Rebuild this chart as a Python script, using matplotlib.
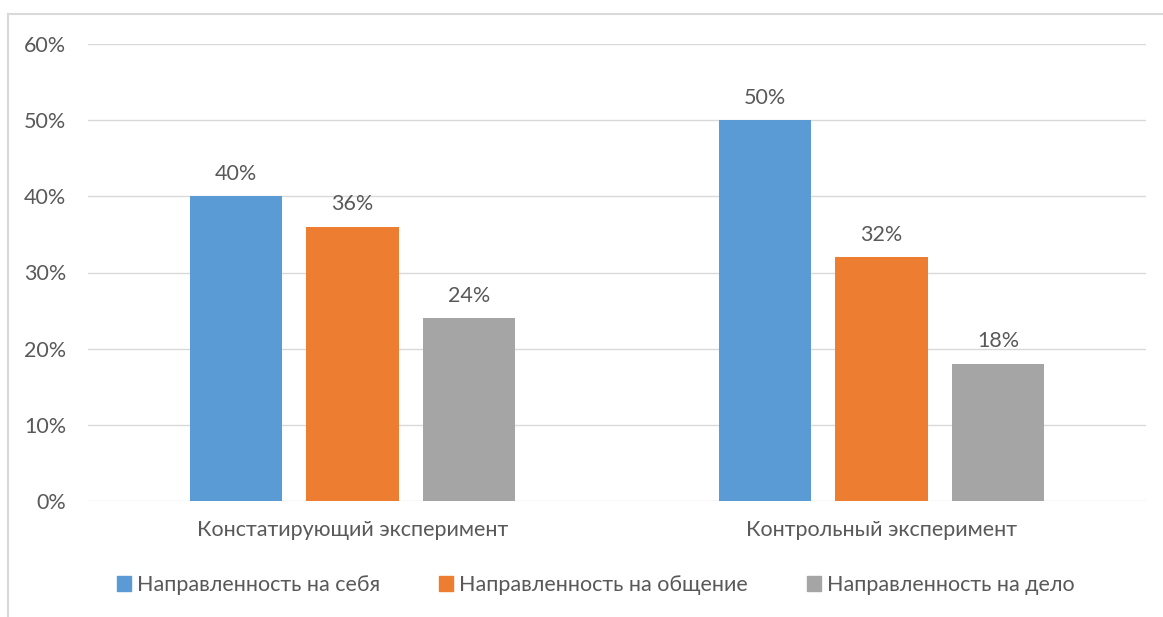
import matplotlib
matplotlib.use("Agg")
import matplotlib.pyplot as plt
from matplotlib.ticker import FuncFormatter
from matplotlib.lines import Line2D
import numpy as np

categories = ["Констатирующий эксперимент", "Контрольный эксперимент"]
series_names = ["Направленность на себя", "Направленность на общение", "Направленность на дело"]
values = [
    [40, 50],
    [36, 32],
    [24, 18],
]
colors = ["#5B9BD5", "#ED7D31", "#A5A5A5"]
yticks = [0, 10, 20, 30, 40, 50, 60]

plt.rcParams['font.family'] = ['Lato', 'DejaVu Sans']
txt = "#595959"
fs = 15.5

fig = plt.figure(figsize=(11.63, 6.17), dpi=100)
ax = fig.add_axes([88/1163, 116/617, (1146-88)/1163, (501-44)/617])

x = np.arange(len(categories))
width = 0.174
offsets = [-0.221, 0, 0.221]
for vals, name, c, off in zip(values, series_names, colors, offsets):
    bars = ax.bar(x + off, vals, width, color=c, label=name, zorder=3)
    for b, v in zip(bars, vals):
        ax.annotate(f"{v}%", (b.get_x() + b.get_width()/2, v), xytext=(0, 9),
                    textcoords="offset points", ha="center", va="bottom",
                    fontsize=fs, color=txt)

ax.set_xlim(-0.5, 1.5)
ax.set_ylim(0, 60)
ax.set_yticks(yticks)
ax.yaxis.set_major_formatter(FuncFormatter(lambda v, p: f"{v:.0f}%"))
ax.set_xticks(x)
ax.set_xticklabels(categories)
ax.tick_params(axis='both', length=0, labelsize=fs, colors=txt)
ax.tick_params(axis='y', pad=15.8)
ax.tick_params(axis='x', pad=14)
ax.grid(axis='y', color="#D9D9D9", linewidth=1, zorder=0)
for s in ax.spines.values():
    s.set_visible(False)

handles = [plt.Rectangle((0, 0), 1, 1, color=c) for c in colors]
fig.legend(handles, series_names, loc="center", bbox_to_anchor=(0.5125, 1 - 585/617),
           ncol=3, frameon=False, fontsize=fs, labelcolor=txt,
           handlelength=0.65, handleheight=0.65, handletextpad=0.28, columnspacing=2.75)

# chart border (left and top edges visible)
fig.add_artist(Line2D([8/1163, 8/1163], [0, 1 - 14/617], transform=fig.transFigure,
                      color="#D9D9D9", linewidth=1.5))
fig.add_artist(Line2D([8/1163, 1.0], [1 - 14/617, 1 - 14/617], transform=fig.transFigure,
                      color="#D9D9D9", linewidth=1.5))

fig.savefig("out.png", dpi=100, facecolor="white")
